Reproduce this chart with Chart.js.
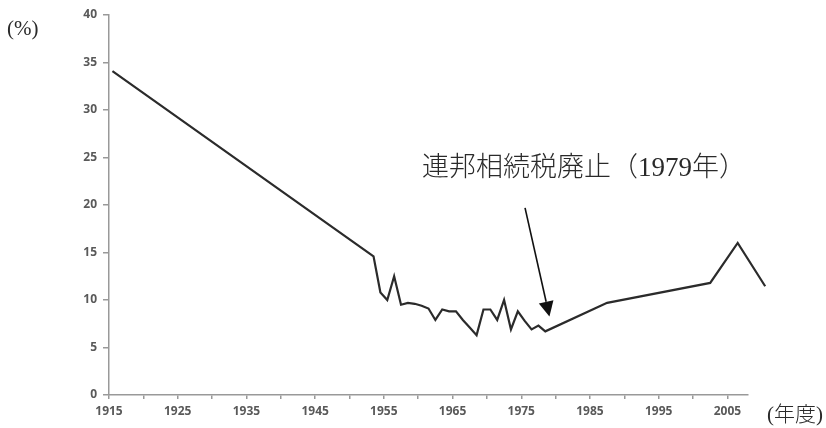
<!DOCTYPE html>
<html>
<head>
<meta charset="utf-8">
<script src="https://cdn.jsdelivr.net/npm/chart.js@4"></script>
<style>
    body { margin: 0; background: #fff; }
    #wrap { width: 826px; height: 428px; }
</style>
</head>
<body>
<div id="wrap"><canvas id="myChart" width="826" height="428"></canvas></div>
<script>
// Data
const years = [1915, 1953, 1954, 1955, 1956, 1957, 1958, 1959, 1960, 1961, 1962,
    1963, 1964, 1965, 1966, 1967, 1968, 1969, 1970, 1971, 1972, 1973, 1974,
    1975, 1976, 1977, 1978, 1987, 2002, 2006, 2010];
const rates = [34.1, 14.6, 10.8, 10.0, 12.5, 9.5, 9.7, 9.6, 9.4, 9.1, 7.9,
    9.0, 8.8, 8.8, 7.9, 7.1, 6.3, 9.0, 9.0, 7.9, 10.0, 6.9, 8.8,
    7.8, 6.9, 7.3, 6.7, 9.7, 11.8, 16.0, 11.45];

// x axis: ticks every 5 years, labels every 10
const xTicks = [1915, 1920, 1925, 1930, 1935, 1940, 1945, 1950, 1955, 1960,
    1965, 1970, 1975, 1980, 1985, 1990, 1995, 2000, 2005];
const xLabels = [1915, 1925, 1935, 1945, 1955, 1965, 1975, 1985, 1995, 2005];
const yTicks = [0, 5, 10, 15, 20, 25, 30, 35, 40];

const noteText = '連邦相続税廃止（1979年）';
const yUnit = '(%)';
const xUnit = '(年度)';

document.addEventListener("DOMContentLoaded", () => {
    const ctx = document.getElementById('myChart').getContext('2d');

    // points sit in the middle of each year's slot, like the Excel date axis
    const points = years.map((y, i) => ({ x: y + 0.5, y: rates[i] }));

    const tickFont = { family: "'Open Sans', sans-serif", size: 12, weight: '700' };
    const axisGrey = '#999';

    const annotations = {
        id: 'annotations',
        afterDraw(chart) {
            const c = chart.ctx;
            const xs = chart.scales.x;
            const ys = chart.scales.y;
            c.save();

            // arrow to 1979
            const x0 = xs.getPixelForValue(1975.55), y0 = ys.getPixelForValue(19.7);
            const x1 = xs.getPixelForValue(1979.1), y1 = ys.getPixelForValue(8.27);
            const ang = Math.atan2(y1 - y0, x1 - x0);
            const headLen = 15, headW = 7.5;
            const bx = x1 - headLen * Math.cos(ang), by = y1 - headLen * Math.sin(ang);
            c.strokeStyle = '#111';
            c.fillStyle = '#111';
            c.lineWidth = 1.6;
            c.beginPath();
            c.moveTo(x0, y0);
            c.lineTo(bx, by);
            c.stroke();
            c.beginPath();
            c.moveTo(x1, y1);
            c.lineTo(bx + headW * Math.sin(ang), by - headW * Math.cos(ang));
            c.lineTo(bx - headW * Math.sin(ang), by + headW * Math.cos(ang));
            c.closePath();
            c.fill();

            // note text
            c.fillStyle = '#2a2a2a';
            c.textBaseline = 'middle';
            c.textAlign = 'left';
            c.font = "300 27px 'Liberation Serif', 'Noto Sans CJK JP', serif";
            c.fillText(noteText, xs.getPixelForValue(1960.55), ys.getPixelForValue(23.8));

            // axis units
            c.font = "300 21px 'Liberation Serif', 'Noto Sans CJK JP', serif";
            c.fillText(yUnit, 7, 29);
            c.fillText(xUnit, 767, 415);
            c.restore();
        }
    };

    new Chart(ctx, {
        type: 'line',
        data: {
            datasets: [{
                data: points,
                borderColor: '#2b2b2b',
                borderWidth: 2.2,
                pointRadius: 0,
                tension: 0,
                fill: false,
                clip: false
            }]
        },
        options: {
            responsive: false,
            animation: false,
            layout: { padding: { top: 15, right: 78, left: 0, bottom: 0 } },
            plugins: {
                legend: { display: false },
                tooltip: { enabled: false }
            },
            scales: {
                x: {
                    type: 'linear',
                    min: 1915,
                    max: 2008,
                    afterBuildTicks: scale => {
                        scale.ticks = xTicks.map(v => ({ value: v }));
                    },
                    afterFit: scale => { scale.height = 33; },
                    grid: {
                        drawOnChartArea: false,
                        tickLength: 4,
                        tickColor: axisGrey,
                        lineWidth: 1.5
                    },
                    border: { color: axisGrey, width: 1.5 },
                    ticks: {
                        autoSkip: false,
                        maxRotation: 0,
                        padding: 5,
                        color: '#595959',
                        font: tickFont,
                        callback: v => xLabels.includes(v) ? String(v) : ''
                    }
                },
                y: {
                    min: 0,
                    max: 40,
                    afterBuildTicks: scale => {
                        scale.ticks = yTicks.map(v => ({ value: v }));
                    },
                    afterFit: scale => { scale.width = 109; },
                    grid: {
                        drawOnChartArea: false,
                        tickLength: 6,
                        tickColor: axisGrey,
                        lineWidth: 1.5
                    },
                    border: { color: axisGrey, width: 1.5 },
                    ticks: {
                        padding: 6,
                        color: '#595959',
                        font: tickFont
                    }
                }
            }
        },
        plugins: [annotations]
    });
});
</script>
</body>
</html>
